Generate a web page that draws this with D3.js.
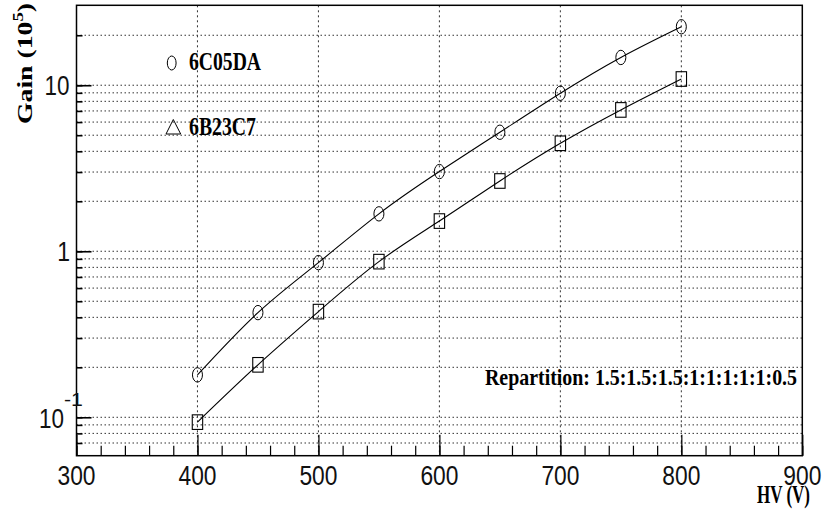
<!DOCTYPE html>
<html>
<head>
<meta charset="utf-8">
<script src="https://cdn.jsdelivr.net/npm/d3@7"></script>
<style>
  body { margin: 0; background: #fff; }
  svg { display: block; }
  .tick-label { font-family: "Liberation Sans", Arial, sans-serif; fill: #111; }
  .bold-label { font-family: "Liberation Serif", "Times New Roman", serif; font-weight: bold; fill: #000; }
</style>
</head>
<body>
<div id="chart"></div>
<script>
// HV values (V) and gain (10^5) for both tubes
var hvValues = [400, 450, 500, 550, 600, 650, 700, 750, 800];
var gain6C05DA = [0.180, 0.427, 0.854, 1.68, 3.02, 5.21, 8.95, 14.7, 22.5];
var gain6B23C7 = [0.0935, 0.207, 0.433, 0.866, 1.52, 2.65, 4.47, 7.10, 10.9];

var xTickLabels = [300, 400, 500, 600, 700, 800, 900];
var yTickLabels = [0.1, 1, 10];
var legendNames = ["6C05DA", "6B23C7"];
var noteText = "Repartition: 1.5:1.5:1.5:1:1:1:1:1:0.5";

function main(){
    buildChart();
}

// put a text whose glyphs are stretched vertically (the picture is taller than it should be)
function stretchedText(parent, x, y, str, size, sy, anchor, cls, len){
    var t = parent.append("g")
        .attr("transform", "translate(" + x + "," + y + ") scale(1," + sy + ")")
      .append("text")
        .attr("class", cls)
        .attr("font-size", size)
        .attr("text-anchor", anchor)
        .text(str);
    if (len) t.attr("textLength", len).attr("lengthAdjust", "spacingAndGlyphs");
    return t;
}

function buildChart(){
    var margin = {top: 5.3, right: 23.7, bottom: 73.3, left: 76.5},
        width = 826 - margin.left - margin.right,
        height = 529 - margin.top - margin.bottom;

    var root = d3.select("#chart")
        .append("svg")
            .attr("width", 826)
            .attr("height", 529);
    var svg = root.append("g")
            .attr("transform", "translate(" + margin.left + "," + margin.top + ")");

    var xScale = d3.scaleLinear().domain([300, 900]).range([0, width]);
    var yScale = d3.scaleLog().domain([0.0587, 30.3]).range([height, 0]);

    // grid lines
    var yGrid = [];
    [0.01, 0.1, 1, 10].forEach(function(dec){
        for (var k = 1; k <= 9; k++){
            var v = dec * k;
            if (v > 0.0605 && v < 30) yGrid.push(v);
        }
    });
    svg.selectAll(".hgrid")
        .data(yGrid)
        .enter().append("line")
            .attr("x1", 0).attr("x2", width)
            .attr("y1", function(d){ return yScale(d); })
            .attr("y2", function(d){ return yScale(d); })
            .attr("stroke", "#333")
            .attr("stroke-width", 1)
            .attr("stroke-dasharray", "1.5,2.5");

    svg.selectAll(".vgrid")
        .data(xTickLabels.slice(1, -1))
        .enter().append("line")
            .attr("x1", function(d){ return xScale(d); })
            .attr("x2", function(d){ return xScale(d); })
            .attr("y1", 0).attr("y2", height)
            .attr("stroke", "#333")
            .attr("stroke-width", 1)
            .attr("stroke-dasharray", "2,3");

    // curves
    var line = d3.line()
        .x(function(d){ return xScale(d[0]); })
        .y(function(d){ return yScale(d[1]); })
        .curve(d3.curveNatural);

    var series = [d3.zip(hvValues, gain6C05DA), d3.zip(hvValues, gain6B23C7)];
    series.forEach(function(s){
        svg.append("path")
            .datum(s)
            .attr("d", line)
            .attr("fill", "none")
            .attr("stroke", "#000")
            .attr("stroke-width", 1.1);
    });

    // markers
    svg.selectAll(".circ")
        .data(series[0])
        .enter().append("ellipse")
            .attr("cx", function(d){ return xScale(d[0]); })
            .attr("cy", function(d){ return yScale(d[1]); })
            .attr("rx", 5)
            .attr("ry", 7.2)
            .attr("fill", "none")
            .attr("stroke", "#000")
            .attr("stroke-width", 1);

    svg.selectAll(".sq")
        .data(series[1])
        .enter().append("rect")
            .attr("x", function(d){ return xScale(d[0]) - 5.2; })
            .attr("y", function(d){ return yScale(d[1]) - 7.3; })
            .attr("width", 10.4)
            .attr("height", 14.6)
            .attr("fill", "none")
            .attr("stroke", "#000")
            .attr("stroke-width", 1.1);

    // x ticks (inside), minor every 20 V
    svg.append("g")
        .attr("transform", "translate(0," + height + ")")
        .call(d3.axisBottom(xScale).tickValues(d3.range(300, 901, 20)).tickSize(-10).tickFormat(""))
        .call(function(g){ g.select(".domain").remove(); });
    svg.append("g")
        .attr("transform", "translate(0," + height + ")")
        .call(d3.axisBottom(xScale).tickValues(xTickLabels).tickSize(-21).tickFormat(""))
        .call(function(g){ g.select(".domain").remove(); });
    svg.selectAll(".tick line").attr("stroke-width", 1.2);

    // y ticks (inside)
    var yMinorAxis = svg.append("g")
        .call(d3.axisLeft(yScale).tickValues(yGrid).tickSize(-6).tickFormat(""));
    yMinorAxis.select(".domain").remove();
    yMinorAxis.selectAll(".tick line").attr("stroke-width", 1.6);
    var yMajorAxis = svg.append("g")
        .call(d3.axisLeft(yScale).tickValues(yTickLabels).tickSize(-15).tickFormat(""));
    yMajorAxis.select(".domain").remove();
    yMajorAxis.selectAll(".tick line").attr("stroke-width", 1.6);

    // frame
    svg.append("rect")
        .attr("x", 0).attr("y", 0)
        .attr("width", width).attr("height", height)
        .attr("fill", "none")
        .attr("stroke", "#000")
        .attr("stroke-width", 1.5);

    // x tick labels
    xTickLabels.forEach(function(v){
        stretchedText(root, margin.left + xScale(v), 485, String(v), 23, 1.18, "middle", "tick-label", 38);
    });

    // y tick labels
    stretchedText(root, 69.5, margin.top + yScale(10) + 9.5, "10", 23, 1.18, "end", "tick-label", 25);
    stretchedText(root, 70, margin.top + yScale(1) + 9.5, "1", 23, 1.18, "end", "tick-label");
    stretchedText(root, 39, margin.top + yScale(0.1) + 10.5, "10", 23, 1.18, "start", "tick-label", 25);
    stretchedText(root, 64, 405.5, "-1", 17, 1.12, "start", "tick-label", 19);

    // axis titles
    stretchedText(root, 810, 503, "HV (V)", 17, 1.45, "end", "bold-label", 53);

    var gainLabel = root.append("g")
        .attr("transform", "translate(32,124) rotate(-90) scale(1.26,1)")
      .append("text")
        .attr("class", "bold-label")
        .attr("font-size", 22);
    gainLabel.append("tspan").text("Gain (10");
    gainLabel.append("tspan").attr("font-size", 15).attr("dy", -9).text("5");
    gainLabel.append("tspan").attr("dy", 9).text(")");

    // legend
    root.append("ellipse")
        .attr("cx", 171.7).attr("cy", 63)
        .attr("rx", 4.4).attr("ry", 7)
        .attr("fill", "none").attr("stroke", "#000").attr("stroke-width", 1);
    root.append("path")
        .attr("d", "M166,134 L173.3,119.5 L180.7,134 Z")
        .attr("fill", "none").attr("stroke", "#000").attr("stroke-width", 1);
    stretchedText(root, 189, 69.5, legendNames[0], 20, 1.24, "start", "bold-label", 72);
    stretchedText(root, 189, 134.5, legendNames[1], 20, 1.24, "start", "bold-label", 67);

    // note
    stretchedText(root, 485, 385, noteText, 20, 1.2, "start", "bold-label", 312);
}

main();
</script>
</body>
</html>
